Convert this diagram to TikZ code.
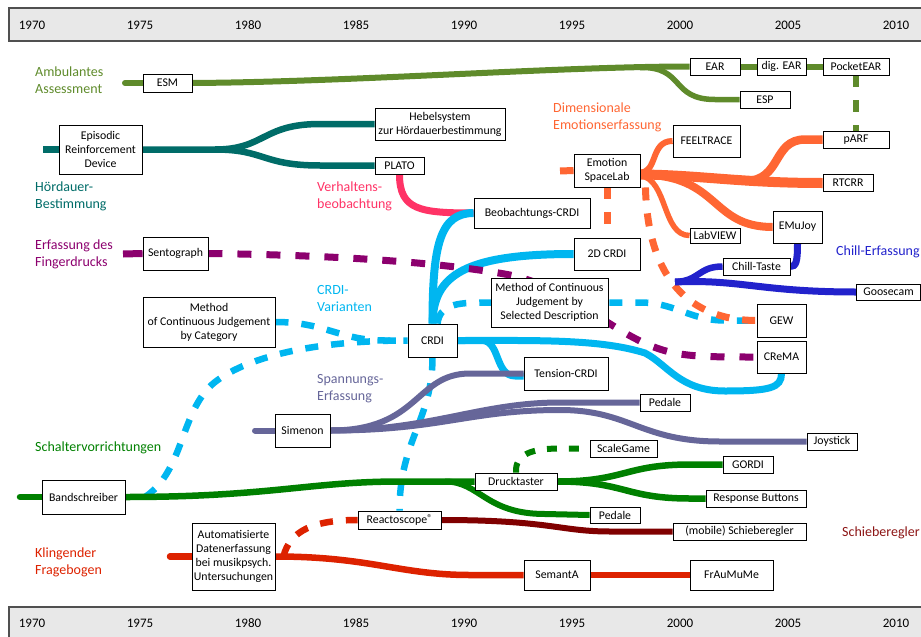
\documentclass[tikz,border=0pt]{standalone}
\usepackage{fontspec}
\setmainfont{Carlito}
\pgfdeclarelayer{bg}
\pgfsetlayers{bg,main}
\definecolor{amb}{RGB}{95,139,43}
\definecolor{tealc}{RGB}{0,108,104}
\definecolor{pinkc}{RGB}{255,51,102}
\definecolor{orc}{RGB}{255,102,51}
\definecolor{chc}{RGB}{34,34,204}
\definecolor{puc}{RGB}{140,0,110}
\definecolor{lbc}{RGB}{0,182,240}
\definecolor{spc}{RGB}{102,102,153}
\definecolor{grc}{RGB}{0,128,0}
\definecolor{drc}{RGB}{128,0,0}
\definecolor{drlab}{RGB}{140,20,20}
\definecolor{rdc}{RGB}{221,34,0}
\definecolor{barfill}{RGB}{232,232,232}
\definecolor{bardraw}{RGB}{80,80,80}
\tikzset{
  box/.style={draw=black, line width=0.9pt, fill=white, inner sep=1pt, align=center,
    font=\fontsize{11.8}{14}\selectfont},
  lab/.style={anchor=west, align=left, inner sep=0pt, font=\fontsize{14}{17}\selectfont},
  yr/.style={inner sep=0pt, font=\fontsize{13}{15}\selectfont},
  ln/.style={line width=6.5pt},
  dsh/.style={line width=6.5pt, dash pattern=on 13pt off 13pt},
}
\newcommand\mybox[6]{\node[box, minimum width=#4pt, minimum height=#5pt] (#1) at (#2,#3) {#6};}
\begin{document}
\begin{tikzpicture}[x=1pt,y=-1pt]
\useasboundingbox (0,0) rectangle (921,637);
% ---------- time bars ----------
\fill[barfill] (9,8) rectangle (930,41);
\fill[barfill] (9,607) rectangle (930,645);
\draw[bardraw, line width=1.2pt] (930,8) -- (9,8) -- (9,41) -- (930,41);
\draw[bardraw, line width=1.2pt] (930,607) -- (9,607) -- (9,645);
\foreach \yr [count=\i from 0] in {1970,1975,1980,1985,1990,1995,2000,2005,2010} {
  \node[yr] (top\i) at ({32+108*\i},25) {\yr};
  \node[yr] (bot\i) at ({32+108*\i},623) {\yr};
}
% ---------- category labels ----------
\node[lab, text=amb] (lamb) at (35,80) {Ambulantes\\Assessment};
\node[lab, text=tealc] (lhoer) at (35,196) {Hördauer-\\Bestimmung};
\node[lab, text=pinkc] (lverh) at (317,196) {Verhaltens-\\beobachtung};
\node[lab, text=orc] (ldim) at (553,117) {Dimensionale\\Emotionserfassung};
\node[lab, text=puc] (lfing) at (35,254) {Erfassung des\\Fingerdrucks};
\node[lab, text=lbc] (lcrdi) at (317,299) {CRDI-\\Varianten};
\node[lab, text=spc] (lspan) at (317,389) {Spannungs-\\Erfassung};
\node[lab, text=chc] (lchill) at (836,252) {Chill-Erfassung};
\node[lab, text=grc] (lschalt) at (35,448) {Schaltervorrichtungen};
\node[lab, text=rdc] (lkling) at (35,562) {Klingender\\Fragebogen};
\node[lab, text=drlab] (lschieb) at (842,533) {Schieberegler};
% ---------- boxes ----------
\mybox{esm}{167.5}{83}{49}{18}{ESM}
\mybox{ear}{715}{66.5}{50}{17}{EAR}
\mybox{digear}{781.5}{66.5}{49}{17}{dig. EAR}
\mybox{pocketear}{856}{66.5}{66}{17}{PocketEAR}
\mybox{esp}{765}{99.5}{50}{17}{ESP}
\mybox{erd}{100.5}{149.5}{83}{49}{Episodic\\Reinforcement\\Device}
\mybox{hebel}{440}{124}{130}{32}{Hebelsystem\\zur Hördauerbestimmung}
\mybox{plato}{399.5}{165.5}{49}{17}{PLATO}
\mybox{beocrdi}{532}{213}{116}{30}{Beobachtungs-CRDI}
\mybox{esl}{607}{170.5}{66}{33}{Emotion\\SpaceLab}
\mybox{feeltrace}{706.5}{141}{67}{32}{FEELTRACE}
\mybox{parf}{856}{139.5}{66}{17}{pARF}
\mybox{rtcrr}{848}{183}{50}{17}{RTCRR}
\mybox{emujoy}{797.5}{227}{49}{32}{EMuJoy}
\mybox{labview}{715}{235.5}{50}{15}{LabVIEW}
\mybox{twodcrdi}{607}{254}{66}{32}{2D CRDI}
\mybox{sento}{175.5}{253.5}{65}{33}{Sentograph}
\mybox{chilltaste}{756.5}{266.5}{67}{17}{Chill-Taste}
\mybox{goosecam}{888.5}{292}{64}{16}{Goosecam}
\mybox{mcjc}{209}{322}{132}{50}{Method\\of Continuous Judgement\\by Category}
\mybox{mcjsd}{549.5}{302.5}{117}{49}{Method of Continuous\\Judgement by\\Selected Description}
\mybox{gew}{781.5}{320.5}{49}{33}{GEW}
\mybox{crdi}{432.5}{340.5}{49}{33}{CRDI}
\mybox{crema}{781.5}{357}{49}{32}{CReMA}
\mybox{tension}{566}{373.5}{84}{33}{Tension-CRDI}
\mybox{pedalea}{665}{402.5}{50}{17}{Pedale}
\mybox{simenon}{302.5}{430.5}{55}{33}{Simenon}
\mybox{joystick}{832}{441.5}{50}{17}{Joystick}
\mybox{scalegame}{623.5}{448.5}{67}{17}{ScaleGame}
\mybox{gordi}{748}{464.5}{50}{17}{GORDI}
\mybox{drucktaster}{516}{481.5}{82}{17}{Drucktaster}
\mybox{bandschreiber}{83.5}{497}{83}{34}{Bandschreiber}
\mybox{respbuttons}{756}{498.5}{100}{17}{Response Buttons}
\mybox{pedaleb}{615}{515}{50}{16}{Pedale}
\mybox{reacto}{399.5}{520}{83}{18}{Reactoscope\raisebox{0.3ex}{\fontsize{10}{10}\selectfont ®}}
\mybox{schieb}{739.5}{531.5}{133}{17}{(mobile) Schieberegler}
\mybox{auto}{233.5}{556.5}{83}{67}{Automatisierte\\Datenerfassung\\bei musikpsych.\\Untersuchungen}
\mybox{semanta}{557}{575}{66}{30}{SemantA}
\mybox{fraumume}{731.5}{575}{83}{30}{FrAuMuMe}
% ---------- free ends ----------
\coordinate (ambs) at (125,83);
\coordinate (espf) at (640,67.5);
\coordinate (teals) at (43,149.5);
\coordinate (tealf) at (215,149.5);
\coordinate (esls) at (560,171);
\coordinate (esld) at (607,226);
\coordinate (parff) at (745,181);
\coordinate (chs) at (675,282);
\coordinate (pus) at (123,254);
\coordinate (sps) at (255,430.5);
\coordinate (grs) at (20,497);
\coordinate (gf) at (445,481.5);
\coordinate (bsd) at (145,497);
\coordinate (tbf) at (482,340.5);
\coordinate (rds) at (170,556.5);
% ---------- connectors ----------
\begin{pgfonlayer}{bg}
% Ambulantes Assessment
\draw[ln,amb,line width=6pt,line cap=round] (ambs) -- (esm.west);
\draw[ln,amb,line width=6pt] (esm.east) .. controls (350,82) and (560,66.5) .. (ear.west);
\draw[ln,amb,line width=5.5pt] (espf) .. controls (685,66.5) and (670,99.5) .. (715,99.5) -- (esp.west);
\draw[ln,amb,line width=6pt] (ear.east) -- (digear.west);
\draw[ln,amb,line width=6pt] (digear.east) -- (pocketear.west);
\draw[dsh,amb,line width=5.5pt,dash pattern=on 12pt off 13pt] (pocketear.south) -- (parf.north);
% Hoerdauer
\draw[ln,tealc] (teals) -- (erd.west);
\draw[ln,tealc] (erd.east) -- (tealf) .. controls (265,149.5) and (262,124) .. (320,124) -- (hebel.west);
\draw[ln,tealc] (tealf) .. controls (265,149.5) and (262,165.5) .. (320,165.5) -- (plato.west);
% Verhaltensbeobachtung
\draw[ln,pinkc,line width=7pt] (plato.south) .. controls (399.5,210) and (420,213) .. (beocrdi.west);
% CRDI
\draw[dsh,lbc] (bsd) .. controls (185,470) and (180,410) .. (215,382) .. controls (250,355) and (320,340.5) .. (crdi.west);
\draw[dsh,lbc] (mcjc.east) .. controls (325,322) and (340,340.5) .. (385,340.5) -- (crdi.west);
\draw[dsh,lbc] ([xshift=5pt]crdi.north) .. controls (440,305) and (455,302.5) .. (485,302.5) -- (640,302.5) .. controls (675,302.5) and (690,320.5) .. (725,320.5) -- (gew.west);
\draw[dsh,lbc] (crdi.south) .. controls (432.5,420) and (399.5,440) .. (reacto.north);
\draw[ln,lbc,line width=8pt] (crdi.north) .. controls (432.5,245) and (440,213) .. (beocrdi.west);
\draw[ln,lbc,line width=8pt] (crdi.north) .. controls (433,275) and (465,254) .. (twodcrdi.west);
\draw[ln,lbc,line width=7pt] (crdi.east) .. controls (540,340.5) and (600,339) .. (645,353) .. controls (668,365) and (680,391) .. (725,391) .. controls (770,391) and (781.5,388) .. (crema.south);
\draw[ln,lbc,line width=7pt] (crdi.east) -- (tbf) .. controls (500,340.5) and (495,376) .. (515,376) -- ([yshift=-2.5pt]tension.west);
% Fingerdruck
\draw[ln,puc,line width=7pt] (pus) -- (sento.west);
\draw[dsh,puc,line width=7pt,dash pattern=on 14pt off 15pt] (sento.east) .. controls (330,255) and (440,262) .. (510,275) .. controls (580,290) and (620,345) .. (680,354) .. controls (700,357) and (720,357) .. (crema.west);
% Dimensionale Emotionserfassung
\draw[ln,orc,line width=7pt] (esls) -- (esl.west);
\draw[dsh,orc,line width=7pt,dash pattern=on 12pt off 13pt] (esl.south) -- (esld);
\draw[dsh,orc,line width=7pt] ([xshift=5pt]esl.south east) .. controls (648,290) and (700,320.5) .. (gew.west);
\draw[ln,orc,line width=6pt] ([yshift=-2pt]esl.east) .. controls (658,172) and (650,141) .. (feeltrace.west);
\draw[ln,orc,line width=5.5pt] ([yshift=-5pt]esl.east) .. controls (668,180) and (662,235.5) .. (labview.west);
\draw[ln,orc,line width=8pt] ([yshift=-4pt]esl.east) .. controls (720,175) and (710,227) .. (emujoy.west);
\draw[ln,orc,line width=8.5pt] (parff) .. controls (782,181) and (772,139.5) .. (805,139.5) -- (parf.west);
\draw[ln,orc,line width=10pt] ([yshift=-4pt]esl.east) .. controls (700,175) and (740,183) .. (rtcrr.west);
% Chill
\draw[ln,chc,line width=7pt] (emujoy.south) .. controls (797.5,262) and (796,266.5) .. (chilltaste.east);
\draw[ln,chc,line width=6.5pt] (chilltaste.west) .. controls (698,266.5) and (700,281) .. (chs);
\draw[ln,chc,line width=7pt] (chs) .. controls (740,279) and (760,292) .. (goosecam.west);
% Spannung
\draw[ln,spc,line width=6pt,line cap=round] (sps) -- (simenon.west);
\draw[ln,spc,line width=6pt] (simenon.east) .. controls (440,430.5) and (470,410) .. (560,410) .. controls (630,410) and (640,441.5) .. (720,441.5) -- (joystick.west);
\draw[ln,spc,line width=6pt] (simenon.east) .. controls (430,430.5) and (480,402.5) .. (560,402.5) -- (pedalea.west);
\draw[ln,spc,line width=6pt] (simenon.east) .. controls (420,430.5) and (415,373.5) .. (470,373.5) -- (tension.west);
% Schaltervorrichtungen
\draw[ln,grc,line cap=round] (grs) -- (bandschreiber.west);
\draw[ln,grc] (bandschreiber.east) .. controls (270,497) and (310,481.5) .. (400,481.5) -- (drucktaster.west);
\draw[ln,grc,line width=6pt] (gf) .. controls (480,481.5) and (485,514) .. (545,514) -- (pedaleb.west);
\draw[ln,grc] (drucktaster.east) .. controls (625,481.5) and (625,464.5) .. (690,464.5) -- (gordi.west);
\draw[ln,grc] (drucktaster.east) .. controls (625,481.5) and (625,498.5) .. (690,498.5) -- (respbuttons.west);
\draw[dsh,grc,line width=6pt,dash pattern=on 10pt off 12pt] (drucktaster.north) .. controls (515,455) and (530,448.5) .. (560,448.5) -- (scalegame.west);
% Schieberegler
\draw[ln,drc,line width=6pt] (reacto.east) .. controls (550,520) and (560,531.5) .. (610,531.5) -- (schieb.west);
% Klingender Fragebogen
\draw[dsh,rdc,line width=6.5pt] ([xshift=8pt]auto.east) .. controls (290,530) and (315,520) .. (reacto.west);
\draw[ln,rdc,line cap=round] (rds) -- (auto.west);
\draw[ln,rdc] (auto.east) .. controls (370,556.5) and (400,575) .. (470,575) -- (semanta.west);
\draw[ln,rdc] (semanta.east) -- (fraumume.west);
\end{pgfonlayer}
\end{tikzpicture}
\end{document}
